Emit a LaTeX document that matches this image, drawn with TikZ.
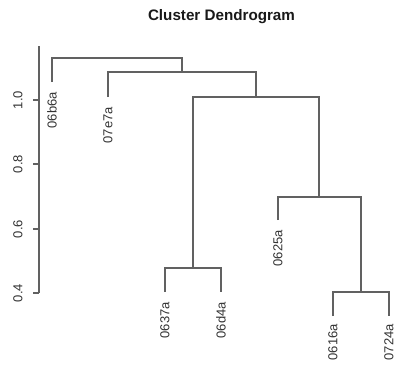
\documentclass[tikz,border=0pt]{standalone}
\usepackage{fontspec}
\setmainfont{Liberation Sans}
\begin{document}
\begin{tikzpicture}[x=1bp,y=-1bp,
  tree/.style={draw=black!62,line width=1.3bp},
  leaflab/.style={rotate=90,anchor=east,inner sep=0pt,text=black!80,font=\fontsize{13bp}{15bp}\selectfont},
  ticklab/.style={rotate=90,anchor=center,inner sep=0pt,text=black!80,font=\fontsize{13bp}{15bp}\selectfont},
  titlestyle/.style={anchor=base,inner sep=0pt,text=black!90,font=\bfseries\fontsize{15.2bp}{18bp}\selectfont}]
\useasboundingbox (0,0) rectangle (395,365);
% title
\node[titlestyle] (title) at (221.5,20.5) {Cluster Dendrogram};
% axis
\draw[tree] (39,46) -- (39,293);
\foreach \y/\t [count=\i] in {100/1.0,164/0.8,229/0.6,293/0.4}{
  \draw[tree] (33,\y) -- (39,\y);
  \node[ticklab] (tick\i) at (18,\y) {\t};
}
% merge points (midpoints of their bars)
\coordinate (mA) at (117,58);
\coordinate (mB) at (182,72);
\coordinate (mC) at (256,97);
\coordinate (mD) at (193,268);
\coordinate (mE) at (319,197);
\coordinate (mF) at (361,292);
% leaves (top ends)
\coordinate (l1) at (52,82);
\coordinate (l2) at (108,97);
\coordinate (l3) at (165,292);
\coordinate (l4) at (221,292);
\coordinate (l5) at (278,220);
\coordinate (l6) at (333,316);
\coordinate (l7) at (389,316);
% branches
\draw[tree] (l1) |- (mA) -| (mB);
\draw[tree] (l2) |- (mB) -| (mC);
\draw[tree] (mD) |- (mC) -| (mE);
\draw[tree] (l3) |- (mD) -| (l4);
\draw[tree] (l5) |- (mE) -| (mF);
\draw[tree] (l6) |- (mF) -| (l7);
% labels
\node[leaflab] (t1) at ([yshift=-10bp]l1) {06b6a};
\node[leaflab] (t2) at ([yshift=-10bp]l2) {07e7a};
\node[leaflab] (t3) at ([yshift=-10bp]l3) {0637a};
\node[leaflab] (t4) at ([yshift=-10bp]l4) {06d4a};
\node[leaflab] (t5) at ([yshift=-10bp]l5) {0625a};
\node[leaflab] (t6) at ([yshift=-8bp]l6) {0616a};
\node[leaflab] (t7) at ([yshift=-8bp]l7) {0724a};
\end{tikzpicture}
\end{document}
